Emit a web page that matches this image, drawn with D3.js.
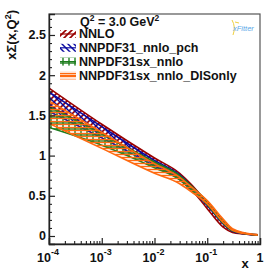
<!DOCTYPE html>
<html><head><meta charset="utf-8">
<script src="https://cdn.jsdelivr.net/npm/d3@7"></script>
<style>
html,body{margin:0;padding:0;background:#fff;}
svg{display:block;font-family:"Liberation Sans",Arial,sans-serif;}
</style></head>
<body><svg id="c" width="274" height="272"></svg>
<script>
// ---- data ----
const xGrid = [1e-4, 1e-3, 1e-2, 3e-2, 5e-2, 0.1, 0.2, 0.3, 0.5, 0.9];
const seriesNames = ["NNLO", "NNPDF31_nnlo_pch", "NNPDF31sx_nnlo", "NNPDF31sx_nnlo_DISonly"];
const nnloUp   = [1.84, 1.39, 0.97, 0.78, 0.64, 0.41, 0.16, 0.065, 0.03, 0.015];
const nnloLo   = [1.62, 1.27, 0.90, 0.72, 0.58, 0.34, 0.11, 0.045, 0.025, 0.01];
const pchUp    = [1.79, 1.36, 0.94, 0.76, 0.62, 0.42, 0.18, 0.08, 0.035, 0.015];
const pchLo    = [1.55, 1.22, 0.87, 0.70, 0.57, 0.38, 0.15, 0.06, 0.028, 0.01];
const sxUp     = [1.61, 1.27, 0.92, 0.75, 0.62, 0.43, 0.19, 0.08, 0.035, 0.015];
const sxLo     = [1.35, 1.13, 0.85, 0.70, 0.57, 0.39, 0.16, 0.065, 0.03, 0.01];
const disUp    = [1.68, 1.29, 0.90, 0.73, 0.61, 0.44, 0.21, 0.09, 0.04, 0.018];
const disLo    = [1.40, 1.09, 0.78, 0.65, 0.55, 0.40, 0.17, 0.07, 0.03, 0.01];
const yMajorTicks = [0, 0.5, 1, 1.5, 2, 2.5];
const yTickLabels = ["0", "0.5", "1", "1.5", "2", "2.5"];
const xMajorTicks = [1e-4, 1e-3, 1e-2, 1e-1, 1];
const xTickExps = ["-4", "-3", "-2", "-1", null];

const colors = ["#990000", "#0a0aa0", "#1c7d1c", "#ff6a10"];
const bands = [[nnloLo, nnloUp], [pchLo, pchUp], [sxLo, sxUp], [disLo, disUp]];

const svg = d3.select("#c");
const L = 49, R = 260, T = 14, B = 244;
const x = d3.scaleLog().domain([1e-4, 1]).range([L, R]);
const y = d3.scaleLinear().domain([-0.0995, 2.761]).range([B, T]);

// patterns
const defs = svg.append("defs");
function pat(id, color, paths, size, sw) {
  const p = defs.append("pattern").attr("id", id).attr("patternUnits", "userSpaceOnUse")
    .attr("width", size).attr("height", size);
  paths.forEach(d => p.append("path").attr("d", d).attr("stroke", color)
    .attr("stroke-width", sw).attr("fill", "none"));
}
pat("p0", colors[0], ["M0,6 L6,0", "M-1,1 L1,-1", "M5,7 L7,5"], 6, 1.6);
pat("p1", colors[1], ["M0,0 L6,6", "M-1,5 L1,7", "M5,-1 L7,1"], 6, 1.5);
pat("p2", colors[2], ["M3,0 L3,6", "M0,3 L6,3"], 6, 1.4);
pat("p3", colors[3], ["M0,1.5 L6,1.5", "M0,4.5 L6,4.5"], 6, 1.4);

const clip = defs.append("clipPath").attr("id", "frame");
clip.append("rect").attr("x", L).attr("y", T).attr("width", R - L).attr("height", B - T);

// bands
const g = svg.append("g").attr("clip-path", "url(#frame)");
bands.forEach((b, i) => {
  const pts = xGrid.map((xv, k) => ({x: xv, lo: b[0][k], hi: b[1][k]}));
  const area = d3.area().x(d => x(d.x)).y0(d => y(d.lo)).y1(d => y(d.hi)).curve(d3.curveMonotoneX);
  g.append("path").attr("d", area(pts)).attr("fill", `url(#p${i})`).attr("stroke", "none");
  ["lo", "hi"].forEach(k => {
    const line = d3.line().x(d => x(d.x)).y(d => y(d[k])).curve(d3.curveMonotoneX);
    g.append("path").attr("d", line(pts)).attr("fill", "none").attr("stroke", colors[i]).attr("stroke-width", 1.6);
  });
});

// frame
svg.append("rect").attr("x", L).attr("y", T).attr("width", R - L).attr("height", B - T)
  .attr("fill", "none").attr("stroke", "#555").attr("stroke-width", 1.2);

// y axis
const yAxis = d3.axisLeft(y).tickValues(yMajorTicks).tickSize(-6).tickPadding(3)
  .tickFormat((d, i) => yTickLabels[i]);
const ya = svg.append("g").attr("transform", `translate(${L},0)`).call(yAxis);
ya.select(".domain").attr("stroke", "#222").attr("stroke-width", 1.4);
ya.selectAll(".tick line").attr("stroke", "#222").attr("stroke-width", 1.2);
ya.selectAll(".tick text").attr("font-size", 12.5).attr("font-weight", "bold").attr("fill", "#111")
  .attr("font-family", "'Liberation Sans',Arial,sans-serif");
const yMinor = d3.range(-0.0, 2.71, 0.1).filter(v => yMajorTicks.every(m => Math.abs(m - v) > 1e-6));
svg.append("g").attr("transform", `translate(${L},0)`)
  .call(d3.axisLeft(y).tickValues(yMinor).tickSize(-3).tickFormat(""))
  .call(s => s.select(".domain").remove())
  .selectAll(".tick line").attr("stroke", "#222").attr("stroke-width", 1.1);

// x axis
const xAxis = d3.axisBottom(x).tickValues(xMajorTicks).tickSize(-6).tickFormat("");
const xa = svg.append("g").attr("transform", `translate(0,${B})`).call(xAxis);
xa.select(".domain").attr("stroke", "#222").attr("stroke-width", 1.4);
xa.selectAll(".tick line").attr("stroke", "#222").attr("stroke-width", 1.2);
const xMinor = [];
for (let e = -4; e < 0; e++) for (let m = 2; m <= 9; m++) xMinor.push(m * Math.pow(10, e));
svg.append("g").attr("transform", `translate(0,${B})`)
  .call(d3.axisBottom(x).tickValues(xMinor).tickSize(-3).tickFormat(""))
  .call(s => s.select(".domain").remove())
  .selectAll(".tick line").attr("stroke", "#222").attr("stroke-width", 1.1);

// x tick labels
xMajorTicks.forEach((v, i) => {
  const t = svg.append("text").attr("y", 262).attr("font-size", 12.5).attr("font-weight", "bold")
    .attr("fill", "#111").attr("text-anchor", "middle");
  if (xTickExps[i] === null) {
    t.attr("x", x(v)).text("1");
  } else {
    t.attr("x", x(v) - 1);
    t.append("tspan").text("10");
    t.append("tspan").attr("font-size", 9).attr("dy", -7).text(xTickExps[i]);
  }
});

// axis titles
svg.append("text").attr("x", 245).attr("y", 268).attr("text-anchor", "middle")
  .attr("font-size", 13).attr("font-weight", "bold").attr("fill", "#111").text("x");
const yt = svg.append("text").attr("transform", "translate(16,10) rotate(-90)")
  .attr("text-anchor", "end").attr("font-size", 13).attr("font-weight", "bold").attr("fill", "#111");
yt.append("tspan").text("xΣ(x,Q");
yt.append("tspan").attr("font-size", 9).attr("dy", -5).text("2");
yt.append("tspan").attr("dy", 5).text(")");

// legend
const q = svg.append("text").attr("x", 80).attr("y", 25.5).attr("font-size", 12.5)
  .attr("font-weight", "bold").attr("fill", "#111");
q.append("tspan").text("Q");
q.append("tspan").attr("font-size", 8.5).attr("dy", -5).text("2");
q.append("tspan").attr("dy", 5).text(" = 3.0 GeV");
q.append("tspan").attr("font-size", 8.5).attr("dy", -5).text("2");

seriesNames.forEach((n, i) => {
  const yy = 34 + i * 13.8;
  svg.append("rect").attr("x", 60).attr("y", yy - 4).attr("width", 16).attr("height", 8)
    .attr("fill", `url(#p${i})`);
  svg.append("line").attr("x1", 60).attr("x2", 76).attr("y1", yy).attr("y2", yy)
    .attr("stroke", colors[i]).attr("stroke-width", 1.2);
  svg.append("text").attr("x", 79).attr("y", yy + 4.3).attr("font-size", 12.5)
    .attr("font-weight", "bold").attr("fill", "#111").text(n);
});

// xFitter logo
svg.append("path").attr("d", "M232,20 Q236,27 233,35 M235,22 L239,23")
  .attr("stroke", "#f0d040").attr("stroke-width", 1).attr("fill", "none");
svg.append("text").attr("x", 233).attr("y", 31).attr("font-size", 7.5).attr("font-style", "italic")
  .attr("fill", "#5aa8e8").text("xFitter");
</script>
</body></html>
